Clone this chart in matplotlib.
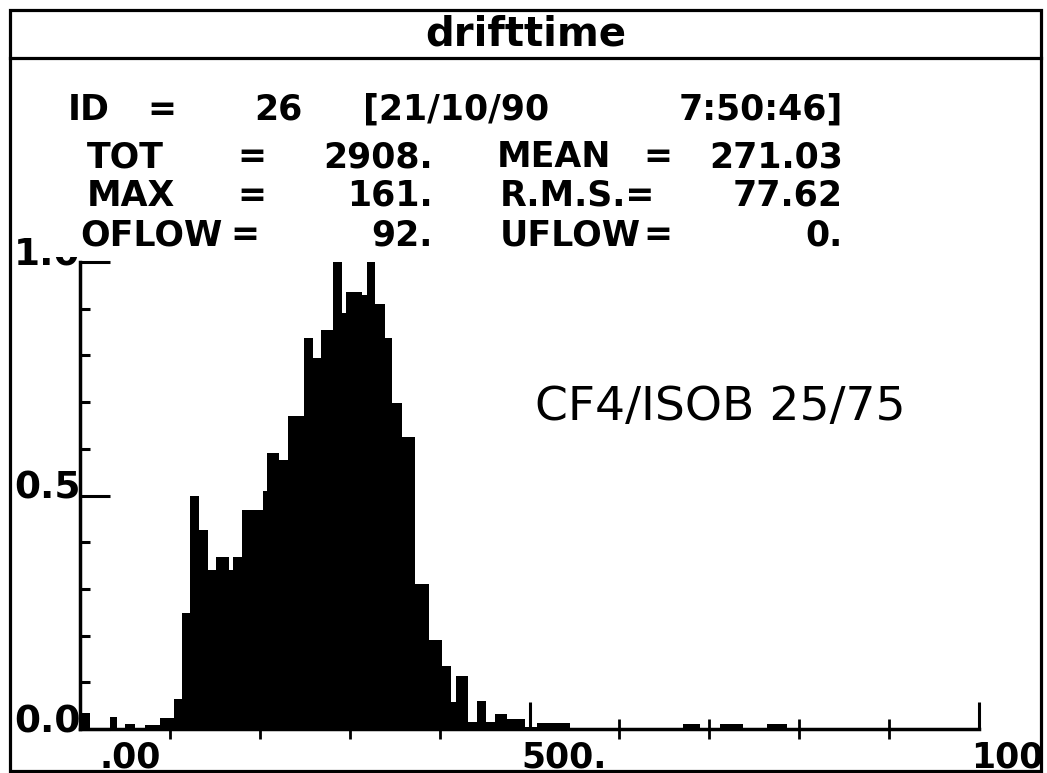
import matplotlib
matplotlib.use("Agg")
import matplotlib.pyplot as plt
from matplotlib.patches import Rectangle
from matplotlib.transforms import Bbox, TransformedBbox, offset_copy

# ---------------- data ----------------
bin_edges = [0, 11, 33, 41, 50, 61, 72, 89, 104.6, 114,
             122.4, 132.7, 142.4, 150.9, 166.1, 170.5, 179.9, 203.6, 207.7, 221.7,
             231.7, 249.2, 259.5, 267.7, 281.8, 291.1, 295.9, 313.3, 318.9, 328.1,
             339.3, 346.7, 357.8, 372.6, 388.5, 402.3, 412.3, 417.7, 431.9, 441.6,
             451.9, 461.1, 474.6, 495.0, 508.0, 545.0, 670.7, 689.7, 711.9, 737.5,
             764.2, 786.4]
heights = [0.034, 0, 0.026, 0, 0.01, 0, 0.008, 0.024, 0.064, 0.248,
           0.50, 0.426, 0.34, 0.369, 0.34, 0.369, 0.468, 0.51, 0.592, 0.575,
           0.67, 0.837, 0.794, 0.854, 1.0, 0.891, 0.936, 0.93, 1.0, 0.91,
           0.837, 0.699, 0.625, 0.31, 0.19, 0.135, 0.058, 0.114, 0.016, 0.061,
           0.016, 0.032, 0.022, 0.004, 0.012, 0, 0.01, 0, 0.01, 0,
           0.01]

title = "drifttime"
x_major = [500, 1000]
x_minor = [100, 200, 300, 400, 600, 700, 800, 900]
x_labels = [(0, ".00"), (500, "500."), (1000, "1000")]
y_major = [0.0, 0.5, 1.0]
y_minor = [0.1, 0.2, 0.3, 0.4, 0.6, 0.7, 0.8, 0.9]
y_labels = ["0.0", "0.5", "1.0"]
stats_lines = [
    [("ID", 68, "left"), ("=", 147, "left"), ("26", 303, "right"),
     ("[21/10/90", 363, "left"), ("7:50:46]", 843, "right")],
    [("TOT", 87, "left"), ("=", 237, "left"), ("2908.", 433, "right"),
     ("MEAN", 497, "left"), ("=", 643, "left"), ("271.03", 843, "right")],
    [("MAX", 87, "left"), ("=", 237, "left"), ("161.", 433, "right"),
     ("R.M.S.=", 500, "left"), ("77.62", 843, "right")],
    [("OFLOW", 80, "left"), ("=", 230, "left"), ("92.", 433, "right"),
     ("UFLOW", 500, "left"), ("=", 643, "left"), ("0.", 843, "right")],
]
stats_y = [110, 157, 196, 235]
annotation = "CF4/ISOB 25/75"

# ---------------- figure ----------------
W, H = 1047, 773
fig = plt.figure(figsize=(W / 100, H / 100), dpi=100)
bg = fig.add_axes([0, 0, 1, 1])
bg.set_xlim(0, W)
bg.set_ylim(H, 0)
bg.axis("off")

FL, FT, FR, FB = 10, 10, 1041, 771
SEP = 58
bg.add_patch(Rectangle((FL, FT), FR - FL, FB - FT, fill=False, ec="black",
                       lw=2.3, zorder=10))
bg.plot([FL, FR], [SEP, SEP], color="black", lw=2.3)
bg.text((FL + FR) / 2, 35, title, ha="center", va="center",
        fontsize=29, fontweight="bold", family="DejaVu Sans")

frame_clip = TransformedBbox(
    Bbox.from_extents(FL / W, (H - FB) / H, FR / W, (H - FT) / H), fig.transFigure)

# histogram axes
ax = fig.add_axes([80 / W, (H - 729) / H, (979 - 80) / W, (729 - 262) / H])
ax.patch.set_visible(False)
ax.set_xlim(0, 1000)
ax.set_ylim(0, 1)
ax.stairs(heights, bin_edges, fill=True, color="black", baseline=0, lw=0)

for s in ["top", "right"]:
    ax.spines[s].set_visible(False)
for s in ["left", "bottom"]:
    ax.spines[s].set_linewidth(2.5)

ax.set_xticks(x_major)
ax.set_xticks(x_minor, minor=True)
ax.set_yticks(y_major)
ax.set_yticks(y_minor, minor=True)
ax.tick_params(axis="x", which="major", direction="in", length=19.5, width=2.2,
               labelbottom=False)
ax.tick_params(axis="x", which="minor", direction="inout", length=14, width=2.0)
ax.tick_params(axis="y", which="major", direction="in", length=21.6, width=2.2,
               labelleft=False)
ax.tick_params(axis="y", which="minor", direction="in", length=7.2, width=2.2)

# x labels
xt = ax.get_xaxis_transform()
for val, txt in x_labels:
    dx = 14 if val == 0 else -6
    tr = offset_copy(xt, fig=fig, x=dx, y=-8, units="points")
    t = ax.text(val, 0, txt, transform=tr, ha="left", va="top",
                fontsize=25, fontweight="bold", family="DejaVu Sans")
    if val == 1000:
        t.set_clip_box(frame_clip)
        t.set_clip_on(True)

# y labels
yt = ax.get_yaxis_transform()
for val, txt in zip(y_major, y_labels):
    tr = offset_copy(yt, fig=fig, x=0.5, y=5, units="points")
    t = ax.text(0, val, txt, transform=tr, ha="right", va="center", zorder=2,
                fontsize=27, fontweight="bold", family="DejaVu Sans")
    t.set_clip_box(frame_clip)
    t.set_clip_on(True)

# white stats box covering the top of the axis labels
ax.add_patch(Rectangle((48, SEP + 3), 990, 257 - SEP - 3, transform=bg.transData,
                       fc="white", ec="none", clip_on=False, zorder=3))

for line, yy in zip(stats_lines, stats_y):
    for txt, xx, ha in line:
        ax.text(xx, yy, txt, transform=bg.transData, ha=ha, va="center",
                fontsize=25, fontweight="bold", family="DejaVu Sans", zorder=4)

ax.text(535, 408, annotation, transform=bg.transData, ha="left", va="center",
        fontsize=34, family="DejaVu Sans", zorder=4)

fig.savefig("out.png", dpi=100)
